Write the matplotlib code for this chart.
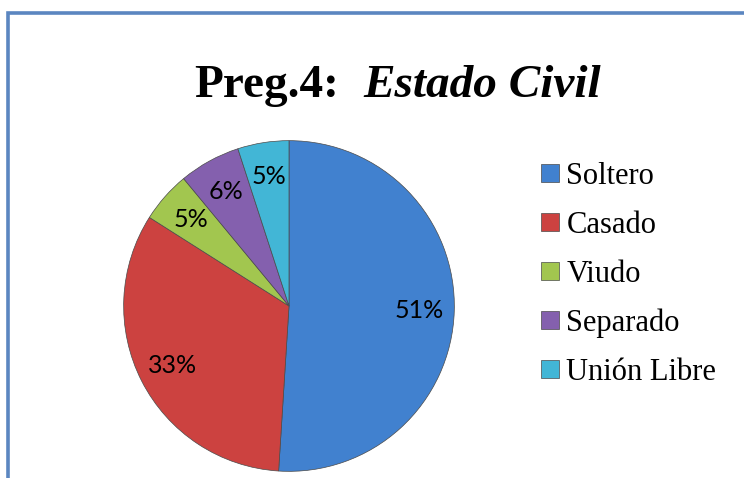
import matplotlib
matplotlib.use("Agg")
import matplotlib.pyplot as plt
from matplotlib.patches import Rectangle

# data
categories = ["Soltero", "Casado", "Viudo", "Separado", "Unión Libre"]
percentages = [51, 33, 5, 6, 5]
slice_colors = ["#4181cf", "#cc4240", "#a2c64f", "#8460ae", "#42b6d6"]

fig = plt.figure(figsize=(7.44, 4.78), dpi=100)
fig.patch.set_facecolor("white")

# blue outer frame (only top and left edges visible in the crop)
frame = Rectangle((8 / 744, -0.1), 1.2, 0.1 + 465 / 478, transform=fig.transFigure,
                  fill=False, edgecolor="#5b86c0", linewidth=2.6, clip_on=False)
fig.add_artist(frame)

# title: bold part + bold italic part
fig.text(194 / 744, (478 - 97) / 478, "Preg.4:", family="Liberation Serif",
         fontsize=34, fontweight="bold", va="baseline", ha="left")
fig.text(363 / 744, (478 - 97) / 478, "Estado Civil", family="Liberation Serif",
         fontsize=34, fontweight="bold", style="italic", va="baseline", ha="left")

ax = fig.add_axes([(289 - 167) / 744, (172 - 167) / 478, 334 / 744, 334 / 478])
wedges, texts, autotexts = ax.pie(
    percentages, colors=slice_colors, startangle=90, counterclock=False,
    autopct="%d%%", pctdistance=0.79, radius=1.0,
    wedgeprops=dict(edgecolor="#4a4a4a", linewidth=0.5),
    textprops=dict(family="Lato", fontsize=18, color="black"))
ax.set_xlim(-1.01, 1.01)
ax.set_ylim(-1.01, 1.01)
ax.set_aspect("equal")
ax.axis("off")

fig.legend(wedges, categories, loc="upper left",
           bbox_to_anchor=(541 / 744, (478 - 162) / 478),
           frameon=False, prop=dict(family="Liberation Serif", size=22),
           handlelength=0.58, handleheight=0.55, handletextpad=0.25,
           labelspacing=0.65, borderpad=0.0, borderaxespad=0.0)

fig.savefig("out.png", dpi=100, facecolor="white")
